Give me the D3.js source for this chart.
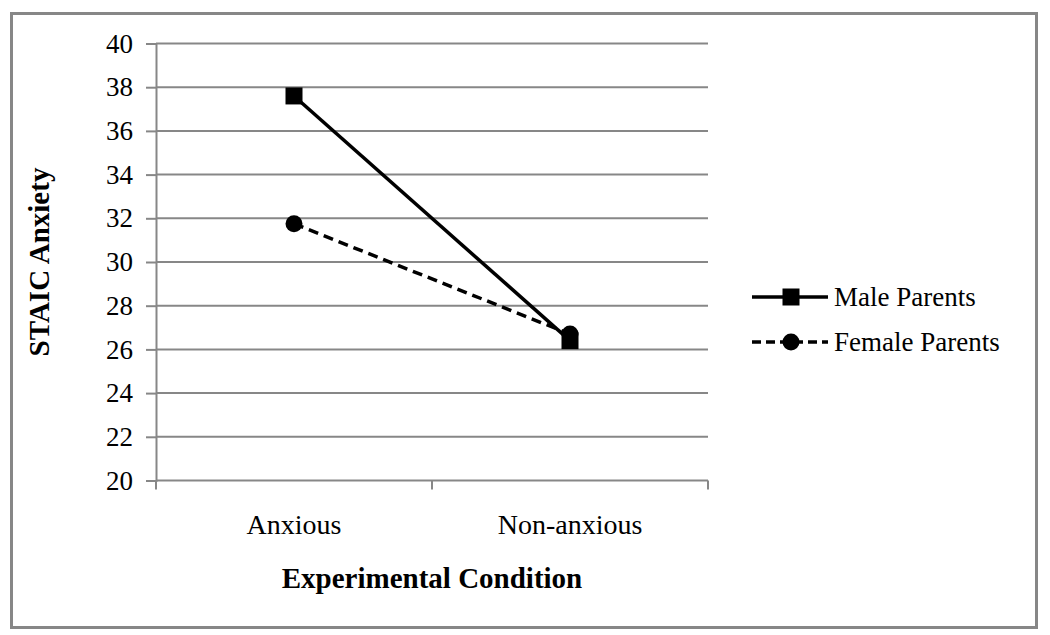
<!DOCTYPE html>
<html><head><meta charset="utf-8">
<script src="https://cdn.jsdelivr.net/npm/d3@7"></script>
<style>html,body{margin:0;padding:0;background:#fff;}svg{display:block;}
svg text{font-family:"Liberation Serif","Times New Roman",Tinos,"DejaVu Serif",serif;}</style>
</head><body>
<script>
const categories = ["Anxious", "Non-anxious"];
const seriesNames = ["Male Parents", "Female Parents"];
const maleValues = [37.6, 26.4];
const femaleValues = [31.75, 26.7];
const yTicks = [20, 22, 24, 26, 28, 30, 32, 34, 36, 38, 40];
const xTitle = "Experimental Condition";
const yTitle = "STAIC Anxiety";

const W = 1050, H = 635;
const svg = d3.select("body").append("svg").attr("width", W).attr("height", H);
const grid = "#878787";

svg.append("rect").attr("x", 11.5).attr("y", 13.5).attr("width", 1025).attr("height", 614)
  .attr("fill", "#fff").attr("stroke", grid).attr("stroke-width", 3);

const L = 156, R = 708, T = 43.5, B = 480.5;
const x = d3.scaleBand().domain(categories).range([L, R]);
const y = d3.scaleLinear().domain([20, 40]).range([B, T]);

// gridlines
svg.append("g").selectAll("line").data(yTicks.filter(d => d > 20)).join("line")
  .attr("x1", L).attr("x2", R).attr("y1", d => y(d)).attr("y2", d => y(d))
  .attr("stroke", grid).attr("stroke-width", 2);

// y axis
const yAxis = svg.append("g").attr("transform", `translate(${L},0)`)
  .call(d3.axisLeft(y).tickValues(yTicks).tickSize(10).tickPadding(13).tickFormat(d3.format("d")));
yAxis.attr("font-family", null).attr("font-size", null);
yAxis.select(".domain").attr("stroke", grid).attr("stroke-width", 2);
yAxis.selectAll(".tick line").attr("stroke", grid).attr("stroke-width", 2);
yAxis.selectAll("text").style("font-size", "27px").attr("fill", "#000");

// x axis
const xAxis = svg.append("g").attr("transform", `translate(0,${B})`)
  .call(d3.axisBottom(x).tickSize(0).tickPadding(34));
xAxis.attr("font-family", null).attr("font-size", null);
xAxis.select(".domain").attr("stroke", grid).attr("stroke-width", 2).attr("d", `M${L},0H${R}`);
xAxis.selectAll("text").style("font-size", "28px").attr("fill", "#000");
// x tick marks at category boundaries
svg.append("g").selectAll("line").data([L, x(categories[1]), R]).join("line")
  .attr("x1", d => d).attr("x2", d => d).attr("y1", B).attr("y2", B + 9)
  .attr("stroke", grid).attr("stroke-width", 2);

// titles
svg.append("text").attr("x", (L + R) / 2).attr("y", 588).attr("text-anchor", "middle")
  .style("font-size", "29px").attr("font-weight", "bold").text(xTitle);
svg.append("text").attr("transform", `translate(49,${(T + B) / 2}) rotate(-90)`).attr("text-anchor", "middle")
  .style("font-size", "29px").attr("font-weight", "bold").text(yTitle);

const cx = d => x(d) + x.bandwidth() / 2;
const line = d3.line().x(d => cx(d.c)).y(d => y(d.v));
const series = [
  { name: seriesNames[0], values: maleValues, dash: null, marker: "square" },
  { name: seriesNames[1], values: femaleValues, dash: "10,6", marker: "circle" }
];

function drawMarker(g, type, px, py) {
  if (type === "square") {
    g.append("rect").attr("x", px - 8.5).attr("y", py - 8.5).attr("width", 17).attr("height", 17).attr("fill", "#000");
  } else {
    g.append("circle").attr("cx", px).attr("cy", py).attr("r", 8.5).attr("fill", "#000");
  }
}

series.forEach(s => {
  const pts = categories.map((c, i) => ({ c, v: s.values[i] }));
  svg.append("path").datum(pts).attr("d", line).attr("fill", "none")
    .attr("stroke", "#000").attr("stroke-width", 3.5).attr("stroke-dasharray", s.dash);
});
series.forEach(s => {
  const g = svg.append("g");
  categories.forEach((c, i) => drawMarker(g, s.marker, cx(c), y(s.values[i])));
});

// legend
series.forEach((s, i) => {
  const ly = 297 + i * 45;
  const g = svg.append("g");
  g.append("line").attr("x1", 752).attr("x2", 828).attr("y1", ly).attr("y2", ly)
    .attr("stroke", "#000").attr("stroke-width", 3.5).attr("stroke-dasharray", s.dash ? "9,5" : null);
  drawMarker(g, s.marker, 791, ly);
  g.append("text").attr("x", 834).attr("y", ly).attr("dy", "0.35em")
    .style("font-size", "27px").text(s.name);
});
</script>
</body></html>
